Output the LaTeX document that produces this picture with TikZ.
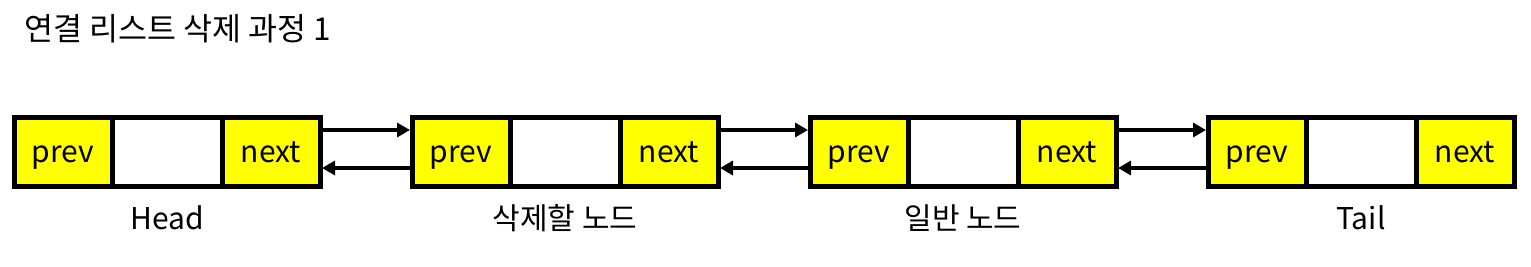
\documentclass[tikz,border=0pt]{standalone}
\usepackage{fontspec}
\setmainfont{Noto Sans CJK KR}
\usetikzlibrary{positioning, calc, arrows.meta}
\definecolor{Dark}{HTML}{000000}
\definecolor{Cell}{HTML}{FFFF00}
\tikzset{
    cellbox/.style={rectangle, draw=Dark, line width=5pt, outer sep=0pt, inner sep=0pt, minimum height=69pt, text height=22pt, text depth=1pt, font=\fontsize{30}{30}\selectfont},
    ptrbox/.style={cellbox, fill=Cell, minimum width=98pt},
    databox/.style={cellbox, fill=white, minimum width=110pt},
    link/.style={-{Triangle[length=13pt, width=14pt]}, line width=4pt, color=Dark, shorten >=2pt},
    caption/.style={anchor=base, inner sep=0pt, font=\fontsize{30}{30}\selectfont, text=Dark},
}

\begin{document}
\begin{tikzpicture}[x=1pt, y=1pt]
    \useasboundingbox (0,0) rectangle (1531,-266);

    % Titolo
    \node[anchor=base west, inner sep=0pt, font=\fontsize{31.5}{31.5}\selectfont] (title) at (24,-40) {연결 리스트 삭제 과정 1};

    % Nodi della lista
    \foreach \n/\i/\lab in {a/0/Head, b/1/삭제할 노드, c/2/일반 노드, d/3/Tail} {
        \node[ptrbox] (\n-prev) at (63+398*\i, -152) {prev};
        \node[databox, right=0pt of \n-prev] (\n-data) {};
        \node[ptrbox, right=0pt of \n-data] (\n-next) {next};
        \node[caption] (\n-lab) at ([yshift=-77pt]\n-data.center) {\lab};
    }

    % Collegamenti
    \foreach \a/\b in {a/b, b/c, c/d} {
        \draw[link] ([yshift=22pt]\a-next.east) -- ([yshift=22pt]\b-prev.west);
        \draw[link] ([yshift=-16pt]\b-prev.west) -- ([yshift=-16pt]\a-next.east);
    }
\end{tikzpicture}
\end{document}
